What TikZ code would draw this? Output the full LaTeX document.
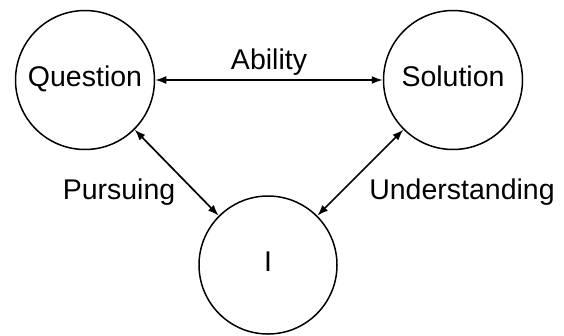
\documentclass[tikz,border=0pt]{standalone}
\usepackage{fontspec}
\setmainfont{Liberation Sans}
\usetikzlibrary{arrows.meta}
\begin{document}
\begin{tikzpicture}[x=1pt,y=-1pt,
  state/.style={circle,draw,line width=1.5pt,minimum size=139pt,inner sep=0pt,text height=20pt,text depth=8pt,font=\fontsize{28.5}{32}\selectfont},
  lbl/.style={font=\fontsize{28.5}{32}\selectfont,inner sep=0pt},
  link/.style={line width=1.7pt,{Latex[length=11pt,width=8pt]}-{Latex[length=11pt,width=8pt]}}]
\useasboundingbox (0,0) rectangle (564,335);
\node[state] (q) at (85,80) {Question};
\node[state] (s) at (453,80) {Solution};
\node[state,minimum size=138pt] (i) at (268,265) {I};
\draw[link] (q) -- (s);
\draw[link] (q.-45) -- (i.135);
\draw[link] (s.225) -- (i.45);
\node[lbl] (ab) at (269,62) {Ability};
\node[lbl] (pu) at (119,192) {Pursuing};
\node[lbl] (un) at (462,192) {Understanding};
\end{tikzpicture}
\end{document}
